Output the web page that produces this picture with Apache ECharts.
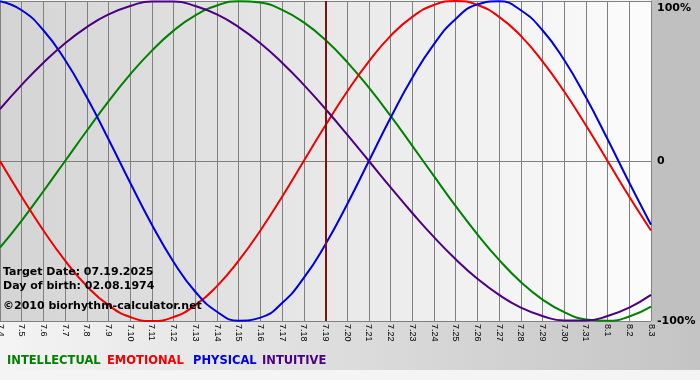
<!DOCTYPE html>
<html><head><meta charset="utf-8">
<script src="https://cdn.jsdelivr.net/npm/echarts@6/dist/echarts.min.js"></script>
<style>html,body{margin:0;padding:0;background:#fff}#c{width:700px;height:380px}</style>
</head><body><div id="c"></div>
<script>
const categories = ['7.4','7.5','7.6','7.7','7.8','7.9','7.10','7.11','7.12','7.13','7.14','7.15','7.16','7.17','7.18','7.19','7.20','7.21','7.22','7.23','7.24','7.25','7.26','7.27','7.28','7.29','7.30','7.31','8.1','8.2','8.3'];
const intellectual = [-0.541,-0.372,-0.189,0,0.189,0.372,0.541,0.690,0.815,0.910,0.972,0.999,0.990,0.945,0.866,0.756,0.618,0.458,0.282,0.095,-0.095,-0.282,-0.458,-0.618,-0.756,-0.866,-0.945,-0.990,-0.999,-0.972,-0.910];
const emotional = [0,-0.223,-0.434,-0.623,-0.782,-0.901,-0.975,-1,-0.975,-0.901,-0.782,-0.623,-0.434,-0.223,0,0.223,0.434,0.623,0.782,0.901,0.975,1,0.975,0.901,0.782,0.623,0.434,0.223,0,-0.223,-0.434];
const physical = [0.998,0.942,0.817,0.631,0.398,0.136,-0.136,-0.398,-0.631,-0.817,-0.942,-0.998,-0.979,-0.888,-0.731,-0.520,-0.270,0,0.270,0.520,0.731,0.888,0.979,0.998,0.942,0.817,0.631,0.398,0.136,-0.136,-0.398];
const intuitive = [0.325,0.476,0.614,0.736,0.837,0.916,0.969,0.997,0.997,0.969,0.916,0.837,0.736,0.614,0.476,0.325,0.165,0,-0.165,-0.325,-0.476,-0.614,-0.736,-0.837,-0.916,-0.969,-0.997,-0.997,-0.969,-0.916,-0.837];
const yTicks = {'1':'100%','0':'0','-1':'-100%'};
const targetDay = '7.19';
const infoLines = ['Target Date: 07.19.2025','Day of birth: 02.08.1974','©2010 biorhythm-calculator.net'];
const seriesNames = ['INTELLECTUAL','EMOTIONAL','PHYSICAL','INTUITIVE'];
const colors = ['#008000','#ee0000','#0000dd','#4b0082'];

const chart = echarts.init(document.getElementById('c'), null, {renderer:'canvas'});
const FONT = 'DejaVu Sans';
const mk = (name, data, color, extra) => Object.assign({
  name, type:'line', data, smooth:true, symbol:'none', silent:true,
  lineStyle:{color, width:2}, itemStyle:{color}
}, extra||{});
const legendX = [7, 107, 193, 262];

chart.setOption({
  animation:false,
  backgroundColor:'#f4f4f4',
  grid:{left:0, right:49, top:1, bottom:59, show:true, borderWidth:0, containLabel:false, outerBoundsMode:'none',
    backgroundColor:new echarts.graphic.LinearGradient(0,0,1,0,[{offset:0,color:'#d4d4d4'},{offset:1,color:'#fcfcfc'}])},
  xAxis:{type:'category', data:categories, boundaryGap:false,
    axisLine:{show:true, lineStyle:{color:'#808080', width:1}},
    axisTick:{show:true, length:4, interval:0, lineStyle:{color:'#808080'}},
    splitLine:{show:true, interval:0, lineStyle:{color:'#808080', width:1}},
    axisLabel:{interval:0, rotate:-90, fontSize:9, fontFamily:'Liberation Sans', color:'#000', margin:3}},
  yAxis:{type:'value', min:-1, max:1, interval:1, position:'right',
    axisLine:{show:false}, axisTick:{show:false},
    splitLine:{show:true, lineStyle:{color:'#808080', width:1}},
    axisLabel:{formatter:v=>yTicks[String(v)], fontSize:11, fontWeight:'bold', fontFamily:FONT, color:'#000', margin:6,
      verticalAlignMaxLabel:'top', padding:[2,0,0,0]}},
  graphic:[
    {type:'rect', z:-100, shape:{x:651,y:0,width:49,height:321}, style:{fill:'#c0c0c0'}},
    {type:'rect', z:-100, shape:{x:0,y:321,width:700,height:49},
      style:{fill:new echarts.graphic.LinearGradient(0,0,1,0,[{offset:0,color:'#f4f4f4'},{offset:1,color:'#c4c4c4'}])}},
    {type:'text', z:100, left:3, top:267, style:{text:infoLines[0], font:'bold 11px "DejaVu Sans"', fill:'#000'}},
    {type:'text', z:100, left:3, top:281, style:{text:infoLines[1], font:'bold 11px "DejaVu Sans"', fill:'#000'}},
    {type:'text', z:100, left:3, top:301, style:{text:infoLines[2], font:'bold 11px "DejaVu Sans"', fill:'#000'}}
  ].concat(seriesNames.map((n,i)=>({type:'text', z:100, left:legendX[i], top:355,
      style:{text:n, font:'bold 11.5px "DejaVu Sans"', fill:colors[i]}}))),
  series:[
    mk(seriesNames[0], intellectual, colors[0], {markLine:{silent:true, symbol:'none', label:{show:false},
      lineStyle:{color:'#7a1414', width:2, type:'solid'}, data:[{xAxis:targetDay}]}}),
    mk(seriesNames[1], emotional, colors[1]),
    mk(seriesNames[2], physical, colors[2]),
    mk(seriesNames[3], intuitive, colors[3])
  ]
});
</script></body></html>
